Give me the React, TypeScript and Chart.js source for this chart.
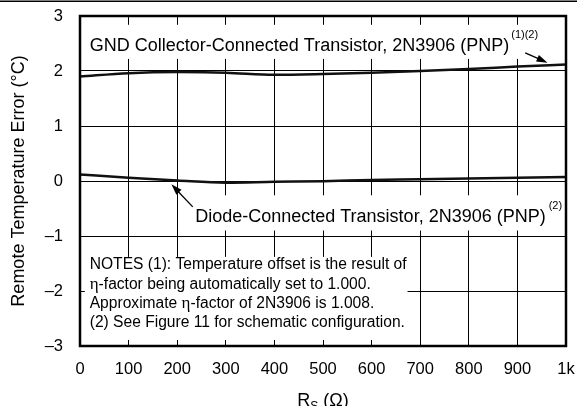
import React, { useEffect, useRef } from "react";
import { Chart, registerables } from "chart.js";

Chart.register(...registerables);

const rsValues = [0, 100, 200, 300, 400, 500, 600, 700, 800, 900, 1000];
const gndError = [1.9, 1.96, 1.98, 1.97, 1.93, 1.945, 1.97, 2.0, 2.035, 2.08, 2.12];
const diodeError = [0.12, 0.06, 0.01, -0.03, -0.015, -0.005, 0.02, 0.03, 0.045, 0.06, 0.075];
const xTickLabels = ["0", "100", "200", "300", "400", "500", "600", "700", "800", "900", "1k"];
const yTickLabels: Record<string, string> = { "3": "3", "2": "2", "1": "1", "0": "0", "-1": "\u20131", "-2": "\u20132", "-3": "\u20133" };

const gndLabel = "GND Collector-Connected Transistor, 2N3906 (PNP)";
const gndNote = "(1)(2)";
const diodeLabel = "Diode-Connected Transistor, 2N3906 (PNP)";
const diodeNote = "(2)";
const notesLines: string[][] = [
  ["NOTES (1): Temperature offset is the result of"],
  ["", "\u03b7", "-factor being automatically set to 1.000."],
  ["Approximate ", "\u03b7", "-factor of 2N3906 is 1.008."],
  ["(2) See Figure 11 for schematic configuration."],
];
const yTitle = "Remote Temperature Error (\u00b0C)";

const SANS = "'Liberation Sans', Arial, Helvetica, sans-serif";
const SERIF = "'Liberation Serif', 'Times New Roman', serif";

function arrow(ctx: CanvasRenderingContext2D, x1: number, y1: number, x2: number, y2: number) {
  const ang = Math.atan2(y2 - y1, x2 - x1);
  const hl = 11, hw = 3.5;
  ctx.save();
  ctx.strokeStyle = "#000";
  ctx.fillStyle = "#000";
  ctx.lineWidth = 1.3;
  ctx.beginPath();
  ctx.moveTo(x1, y1);
  ctx.lineTo(x2 - Math.cos(ang) * hl * 0.8, y2 - Math.sin(ang) * hl * 0.8);
  ctx.stroke();
  ctx.beginPath();
  ctx.moveTo(x2, y2);
  ctx.lineTo(x2 - Math.cos(ang) * hl - Math.sin(ang) * hw, y2 - Math.sin(ang) * hl + Math.cos(ang) * hw);
  ctx.lineTo(x2 - Math.cos(ang) * hl + Math.sin(ang) * hw, y2 - Math.sin(ang) * hl - Math.cos(ang) * hw);
  ctx.closePath();
  ctx.fill();
  ctx.restore();
}

const annotPlugin = {
  id: "annot",
  beforeDatasetsDraw(chart: any) {
    const ctx: CanvasRenderingContext2D = chart.ctx;
    const xs = chart.scales.x, ys = chart.scales.y;
    const a = chart.chartArea;
    ctx.save();
    ctx.fillStyle = "#fff";
    // white boxes behind labels (gridlines interrupted)
    const g1 = ys.getPixelForValue(2.84), g2 = ys.getPixelForValue(2.22);
    ctx.fillRect(a.left + 2, g1, xs.getPixelForValue(955) - a.left - 2, g2 - g1);
    const d1 = ys.getPixelForValue(-0.26), d2 = ys.getPixelForValue(-0.9);
    ctx.fillRect(xs.getPixelForValue(228), d1, a.right - xs.getPixelForValue(228) - 1.5, d2 - d1);
    const n1 = ys.getPixelForValue(-1.38), n2 = ys.getPixelForValue(-2.89);
    ctx.fillRect(xs.getPixelForValue(10), n1, xs.getPixelForValue(674) - xs.getPixelForValue(10), n2 - n1);
    ctx.restore();
  },
  afterDatasetsDraw(chart: any) {
    const ctx: CanvasRenderingContext2D = chart.ctx;
    const xs = chart.scales.x, ys = chart.scales.y;
    ctx.save();
    ctx.fillStyle = "#000";
    ctx.textBaseline = "alphabetic";
    ctx.textAlign = "left";
    // GND label
    ctx.font = `18px ${SANS}`;
    const gx = xs.getPixelForValue(20), gy = ys.getPixelForValue(2.37);
    ctx.fillText(gndLabel, gx, gy);
    const gw = ctx.measureText(gndLabel).width;
    ctx.font = `11px ${SANS}`;
    ctx.fillText(gndNote, gx + gw + 2, gy - 13);
    // Diode label
    ctx.font = `18px ${SANS}`;
    const dx = xs.getPixelForValue(237), dy = ys.getPixelForValue(-0.74);
    ctx.fillText(diodeLabel, dx, dy);
    const dw = ctx.measureText(diodeLabel).width;
    ctx.font = `11px ${SANS}`;
    ctx.fillText(diodeNote, dx + dw + 3, dy - 13);
    // Notes
    const nx = xs.getPixelForValue(20);
    const nys = [-1.6, -1.96, -2.31, -2.66];
    notesLines.forEach((segs, i) => {
      let x = nx;
      const y = ys.getPixelForValue(nys[i]);
      segs.forEach((s) => {
        ctx.font = s === "\u03b7" ? `17px ${SERIF}` : `15.6px ${SANS}`;
        ctx.fillText(s, x, y);
        x += ctx.measureText(s).width;
      });
    });
    // arrows
    arrow(ctx, xs.getPixelForValue(916), ys.getPixelForValue(2.33), xs.getPixelForValue(962), ys.getPixelForValue(2.15));
    arrow(ctx, xs.getPixelForValue(232), ys.getPixelForValue(-0.47), xs.getPixelForValue(188), ys.getPixelForValue(-0.06));
    ctx.restore();
  },
  afterDraw(chart: any) {
    const ctx: CanvasRenderingContext2D = chart.ctx;
    const a = chart.chartArea;
    ctx.save();
    ctx.strokeStyle = "#000";
    ctx.lineWidth = 2.5;
    ctx.strokeRect(a.left, a.top, a.right - a.left, a.bottom - a.top);
    ctx.fillStyle = "#000";
    ctx.fillRect(0, 0.5, 577, 1.5);
    // y title
    ctx.font = `18px ${SANS}`;
    ctx.textAlign = "center";
    ctx.textBaseline = "middle";
    ctx.translate(19, (a.top + a.bottom) / 2);
    ctx.rotate(-Math.PI / 2);
    ctx.fillText(yTitle, 0, 0);
    ctx.restore();
    // x title with subscript
    ctx.save();
    ctx.fillStyle = "#000";
    ctx.textBaseline = "alphabetic";
    ctx.textAlign = "left";
    const parts = [
      { t: "R", f: `18px ${SANS}`, dy: 0 },
      { t: "S", f: `12px ${SANS}`, dy: 4 },
      { t: " (\u03a9)", f: `18px ${SANS}`, dy: 0 },
    ];
    let tw = 0;
    parts.forEach((p) => { ctx.font = p.f; tw += ctx.measureText(p.t).width; });
    let x = (a.left + a.right) / 2 - tw / 2;
    const by = 406;
    parts.forEach((p) => {
      ctx.font = p.f;
      ctx.fillText(p.t, x, by + p.dy);
      x += ctx.measureText(p.t).width;
    });
    ctx.restore();
  },
};

export default function App() {
  const ref = useRef<HTMLCanvasElement>(null);
  useEffect(() => {
    if (!ref.current) return;
    const chart = new Chart(ref.current, {
      type: "line",
      data: {
        datasets: [
          {
            label: "GND Collector-Connected",
            data: rsValues.map((x, i) => ({ x, y: gndError[i] })),
            borderColor: "#111",
            borderWidth: 2.5,
            pointRadius: 0,
            tension: 0.4,
            cubicInterpolationMode: "monotone",
            fill: false,
          },
          {
            label: "Diode-Connected",
            data: rsValues.map((x, i) => ({ x, y: diodeError[i] })),
            borderColor: "#111",
            borderWidth: 2.5,
            pointRadius: 0,
            tension: 0.4,
            cubicInterpolationMode: "monotone",
            fill: false,
          },
        ],
      },
      options: {
        animation: false,
        responsive: false,
        events: [],
        layout: { padding: { top: 16, right: 13, left: 0, bottom: 0 } },
        plugins: { legend: { display: false }, tooltip: { enabled: false } },
        scales: {
          x: {
            type: "linear",
            min: 0,
            max: 1000,
            afterFit: (s: any) => { s.height = 60; s.paddingLeft = 0; s.paddingRight = 0; },
            afterBuildTicks: (s: any) => { s.ticks = rsValues.map((v) => ({ value: v })); },
            grid: { color: "#000", lineWidth: 1, drawTicks: false },
            border: { display: false },
            ticks: {
              padding: 14,
              color: "#000",
              font: { family: SANS, size: 16.5 },
              maxRotation: 0,
              autoSkip: false,
              callback: (v: any) => xTickLabels[rsValues.indexOf(Number(v))] ?? "",
            },
          },
          y: {
            type: "linear",
            min: -3,
            max: 3,
            afterFit: (s: any) => { s.width = 80; s.paddingTop = 0; s.paddingBottom = 0; },
            grid: { color: "#000", lineWidth: 1, drawTicks: false },
            border: { display: false },
            ticks: {
              stepSize: 1,
              padding: 17,
              color: "#000",
              font: { family: SANS, size: 16.5 },
              callback: (v: any) => yTickLabels[String(v)] ?? "",
            },
          },
        },
      },
      plugins: [annotPlugin],
    } as any);
    return () => chart.destroy();
  }, []);
  return (
    <div style={{ position: "fixed", left: 0, top: 0, width: 579, height: 406, background: "#fff" }}>
      <canvas ref={ref} width={579} height={406} style={{ display: "block" }} />
    </div>
  );
}
